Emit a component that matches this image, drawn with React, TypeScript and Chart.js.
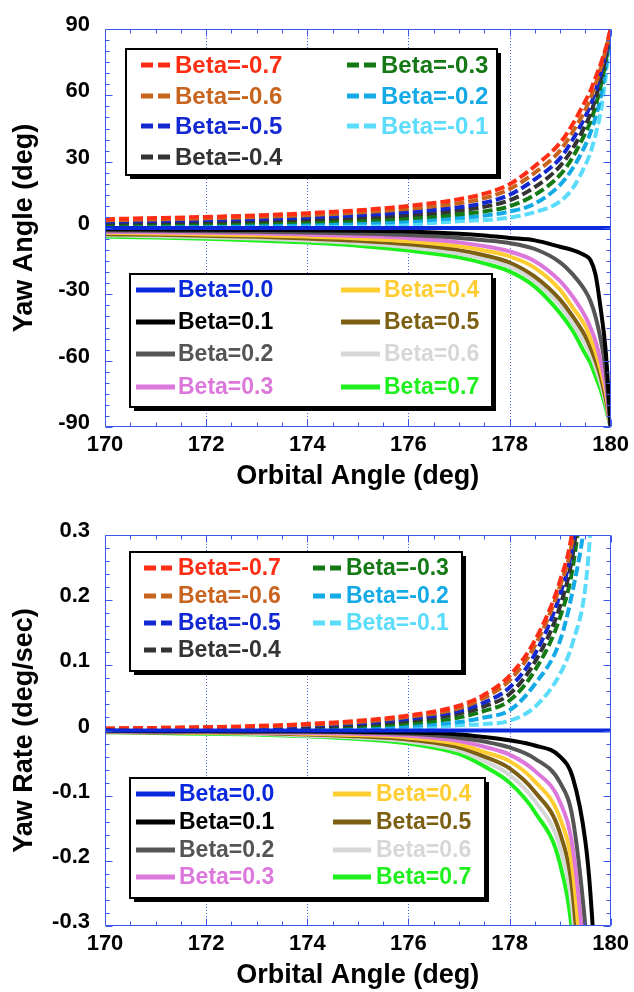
import React, { useEffect, useRef } from 'react';
import { Chart, registerables } from 'chart.js';

Chart.register(...registerables);

const FONT = '"Liberation Sans", Arial, Helvetica, sans-serif';

// ---------- series identity ----------
const betaLabels = [
  'Beta=-0.7', 'Beta=-0.6', 'Beta=-0.5', 'Beta=-0.4', 'Beta=-0.3', 'Beta=-0.2', 'Beta=-0.1',
  'Beta=0.0', 'Beta=0.1', 'Beta=0.2', 'Beta=0.3', 'Beta=0.4', 'Beta=0.5', 'Beta=0.6', 'Beta=0.7',
];
const betaColors = [
  '#ff2d14', '#c8641e', '#1428d2', '#333333', '#147814', '#14aae6', '#5adcfa',
  '#0a28dc', '#000000', '#555555', '#dc78dc', '#ffcd32', '#7d5f14', '#d7d7d7', '#1ef01e',
];

// ---------- tick labels ----------
const orbitalTicks = [170, 172, 174, 176, 178, 180];
const yawTicks = [-90, -60, -30, 0, 30, 60, 90];
const rateTicks = [-0.3, -0.2, -0.1, 0, 0.1, 0.2, 0.3];

// ---------- yaw angle panel (deg) ----------
const orbitalAngleYaw = [170, 171, 172, 173, 174, 175, 176, 177, 177.5, 178, 178.5, 179, 179.25, 179.5, 179.6, 179.7, 179.8, 179.9, 180];
const yawM07 = [4.0, 4.5, 5.0, 5.7, 6.7, 8.0, 10.0, 13.0, 15.5, 19.8, 28.0, 38.5, 47.0, 57.5, 62.0, 68.0, 74.0, 81.0, 90];
const yawM06 = [3.5, 3.9, 4.4, 5.0, 5.8, 7.0, 8.7, 11.2, 13.5, 17.6, 25.0, 35.0, 43.5, 53.5, 58.5, 65.0, 72.0, 80.0, 90];
const yawM05 = [2.9, 3.2, 3.6, 4.1, 4.8, 5.8, 7.2, 9.4, 11.4, 15.0, 22.0, 31.5, 40.0, 50.5, 55.5, 62.0, 69.5, 79.0, 90];
const yawM04 = [2.3, 2.6, 2.9, 3.3, 3.9, 4.7, 5.8, 7.9, 9.6, 12.5, 18.5, 28.0, 36.0, 46.5, 51.5, 58.5, 67.0, 77.0, 90];
const yawM03 = [1.8, 2.0, 2.2, 2.5, 2.9, 3.5, 4.4, 6.2, 7.5, 9.8, 15.0, 24.0, 32.0, 43.0, 48.0, 55.0, 64.0, 75.0, 90];
const yawM02 = [1.2, 1.3, 1.5, 1.7, 2.0, 2.4, 3.0, 4.6, 5.6, 7.4, 11.0, 19.5, 27.0, 37.5, 43.0, 50.0, 59.0, 72.0, 90];
const yawM01 = [0.6, 0.7, 0.8, 0.9, 1.0, 1.2, 1.6, 3.1, 3.6, 4.7, 7.2, 12.0, 18.0, 28.5, 34.0, 42.0, 52.0, 68.0, 90];
const yawP00 = [0, 0, 0, 0, 0, 0, 0, 0, 0, 0, 0, 0, 0, 0, 0, 0, 0, 0, 0];
const yawP01 = [-0.6, -0.7, -0.8, -0.9, -1.0, -1.2, -1.6, -2.6, -3.4, -4.5, -5.6, -8.5, -10.0, -12.5, -14.5, -21.0, -36.0, -55.0, -90];
const yawP02 = [-1.1, -1.3, -1.5, -1.7, -2.0, -2.5, -3.2, -4.5, -5.5, -6.8, -9.5, -15.5, -21.0, -28.5, -33.0, -40.0, -50.0, -64.0, -90];
const yawP03 = [-1.7, -1.9, -2.2, -2.5, -3.0, -3.6, -4.6, -6.5, -8.2, -10.6, -15.0, -24.0, -31.0, -40.0, -45.0, -51.0, -60.0, -71.0, -90];
const yawP04 = [-2.2, -2.5, -2.9, -3.3, -3.9, -4.7, -6.0, -8.3, -10.2, -12.8, -18.0, -28.0, -36.0, -44.5, -50.0, -56.0, -64.0, -74.0, -90];
const yawP05 = [-2.8, -3.1, -3.5, -4.0, -4.8, -5.8, -7.4, -10.0, -12.3, -15.6, -22.0, -32.4, -40.0, -49.0, -54.0, -60.0, -67.0, -77.0, -90];
const yawP06 = [-3.3, -3.7, -4.2, -4.8, -5.7, -6.9, -8.7, -11.6, -14.0, -17.4, -24.0, -35.0, -43.0, -52.5, -57.0, -63.0, -70.0, -79.0, -90];
const yawP07 = [-3.9, -4.3, -4.9, -5.6, -6.6, -8.0, -10.2, -13.3, -16.0, -19.6, -26.5, -38.5, -46.5, -57.0, -61.0, -67.0, -73.0, -81.0, -90];

// ---------- yaw rate panel (deg/sec) ----------
const orbitalAngleRate = [170, 171, 172, 173, 174, 175, 176, 177, 177.5, 178, 178.5, 179, 179.25, 179.5, 179.6, 179.75, 180];
const rateM07 = [0.003, 0.004, 0.005, 0.007, 0.010, 0.015, 0.023, 0.038, 0.055, 0.084, 0.138, 0.230, 0.310, 0.50, 0.60, 0.90, 1.6];
const rateM06 = [0.003, 0.004, 0.005, 0.006, 0.009, 0.013, 0.021, 0.034, 0.050, 0.077, 0.130, 0.222, 0.295, 0.47, 0.57, 0.85, 1.5];
const rateM05 = [0.002, 0.003, 0.004, 0.005, 0.008, 0.011, 0.018, 0.030, 0.043, 0.066, 0.117, 0.209, 0.285, 0.45, 0.55, 0.82, 1.4];
const rateM04 = [0.002, 0.002, 0.003, 0.004, 0.006, 0.009, 0.015, 0.026, 0.037, 0.056, 0.105, 0.191, 0.270, 0.43, 0.53, 0.80, 1.3];
const rateM03 = [0.001, 0.002, 0.002, 0.003, 0.005, 0.007, 0.011, 0.020, 0.030, 0.046, 0.092, 0.174, 0.250, 0.41, 0.51, 0.78, 1.2];
const rateM02 = [0.001, 0.001, 0.001, 0.002, 0.003, 0.004, 0.007, 0.013, 0.020, 0.031, 0.071, 0.138, 0.215, 0.33, 0.42, 0.70, 1.1];
const rateM01 = [0.000, 0.001, 0.001, 0.001, 0.001, 0.002, 0.003, 0.008, 0.010, 0.015, 0.036, 0.087, 0.135, 0.22, 0.31, 0.55, 1.0];
const rateP00 = [0, 0, 0, 0, 0, 0, 0, 0, 0, 0, 0, 0, 0, 0, 0, 0, 0];
const rateP01 = [0.000, -0.001, -0.001, -0.001, -0.001, -0.002, -0.003, -0.006, -0.010, -0.015, -0.023, -0.040, -0.072, -0.170, -0.25, -0.45, -1.0];
const rateP02 = [-0.001, -0.001, -0.001, -0.002, -0.002, -0.003, -0.005, -0.011, -0.017, -0.026, -0.043, -0.080, -0.135, -0.30, -0.40, -0.65, -1.1];
const rateP03 = [-0.001, -0.002, -0.002, -0.003, -0.004, -0.005, -0.008, -0.016, -0.025, -0.037, -0.062, -0.110, -0.180, -0.37, -0.48, -0.75, -1.2];
const rateP04 = [-0.002, -0.002, -0.003, -0.003, -0.005, -0.007, -0.011, -0.021, -0.033, -0.047, -0.078, -0.135, -0.215, -0.44, -0.55, -0.80, -1.3];
const rateP05 = [-0.002, -0.003, -0.003, -0.004, -0.006, -0.009, -0.014, -0.026, -0.040, -0.058, -0.094, -0.158, -0.250, -0.50, -0.60, -0.85, -1.4];
const rateP06 = [-0.003, -0.003, -0.004, -0.005, -0.008, -0.011, -0.017, -0.031, -0.047, -0.068, -0.108, -0.180, -0.280, -0.55, -0.65, -0.90, -1.5];
const rateP07 = [-0.003, -0.004, -0.005, -0.006, -0.009, -0.013, -0.020, -0.036, -0.055, -0.080, -0.125, -0.205, -0.320, -0.60, -0.70, -1.00, -1.6];

const yawSeries = [yawM07, yawM06, yawM05, yawM04, yawM03, yawM02, yawM01, yawP00, yawP01, yawP02, yawP03, yawP04, yawP05, yawP06, yawP07];
const rateSeries = [rateM07, rateM06, rateM05, rateM04, rateM03, rateM02, rateM01, rateP00, rateP01, rateP02, rateP03, rateP04, rateP05, rateP06, rateP07];

// draw order: first dataset is painted last (on top)
const drawOrder = [7, 8, 9, 10, 11, 12, 13, 14, 0, 1, 2, 3, 4, 5, 6];

type LegendCfg = {
  box: [number, number, number, number];
  cols: { x0: number; x1: number; tx: number }[];
  rows: number[];
  font: number;
  items: number[][]; // [seriesIndex, col, row]
};

type PanelCfg = {
  height: number;
  padTop: number;
  padRight: number;
  yWidth: number;
  xHeight: number;
  xTitlePad: number;
  xs: number[];
  series: number[][];
  yMin: number;
  yMax: number;
  yTicks: number[];
  yMinorStep: number;
  yMajorEvery: number;
  yTitle: string;
  yFormat: (v: number) => string;
  legends: LegendCfg[];
};

const legendItemsNeg = [[0, 0, 0], [1, 0, 1], [2, 0, 2], [3, 0, 3], [4, 1, 0], [5, 1, 1], [6, 1, 2]];
const legendItemsPos = [[7, 0, 0], [8, 0, 1], [9, 0, 2], [10, 0, 3], [11, 1, 0], [12, 1, 1], [13, 1, 2], [14, 1, 3]];

const topPanel: PanelCfg = {
  height: 496,
  padTop: 29,
  padRight: 21,
  yWidth: 105,
  xHeight: 69,
  xTitlePad: 3,
  xs: orbitalAngleYaw,
  series: yawSeries,
  yMin: -90,
  yMax: 90,
  yTicks: yawTicks,
  yMinorStep: 5,
  yMajorEvery: 6,
  yTitle: 'Yaw Angle (deg)',
  yFormat: (v: number) => String(v),
  legends: [
    {
      box: [126, 49, 371, 126],
      cols: [{ x0: 141, x1: 171, tx: 175 }, { x0: 347, x1: 377, tx: 381 }],
      rows: [65, 96, 126, 157],
      font: 24,
      items: legendItemsNeg,
    },
    {
      box: [130, 274, 362, 133],
      cols: [{ x0: 136, x1: 175, tx: 178 }, { x0: 341, x1: 380, tx: 384 }],
      rows: [290, 322, 354, 387],
      font: 23,
      items: legendItemsPos,
    },
  ],
};

const bottomPanel: PanelCfg = {
  height: 496,
  padTop: 39,
  padRight: 19,
  yWidth: 105,
  xHeight: 66,
  xTitlePad: 0,
  xs: orbitalAngleRate,
  series: rateSeries,
  yMin: -0.3,
  yMax: 0.3,
  yTicks: rateTicks,
  yMinorStep: 0.02,
  yMajorEvery: 5,
  yTitle: 'Yaw Rate (deg/sec)',
  yFormat: (v: number) => (Math.abs(v) < 1e-9 ? '0' : v.toFixed(1)),
  legends: [
    {
      box: [130, 56, 332, 119],
      cols: [{ x0: 144, x1: 172, tx: 178 }, { x0: 313, x1: 341, tx: 346 }],
      rows: [72, 100, 127, 154],
      font: 23,
      items: legendItemsNeg,
    },
    {
      box: [130, 282, 355, 120],
      cols: [{ x0: 136, x1: 175, tx: 179 }, { x0: 333, x1: 371, tx: 376 }],
      rows: [298, 326, 354, 381],
      font: 23,
      items: legendItemsPos,
    },
  ],
};

const FRAME = '#3a58ee';

function makeFramePlugin(cfg: PanelCfg) {
  return {
    id: 'frameDeco',
    beforeDatasetsDraw(chart: any) {
      const { ctx, chartArea: a, scales } = chart;
      ctx.save();
      ctx.strokeStyle = '#4a68ee';
      ctx.lineWidth = 1;
      ctx.setLineDash([1, 2]);
      for (const v of orbitalTicks) {
        const x = Math.round(scales.x.getPixelForValue(v)) + 0.5;
        if (x <= a.left + 1 || x >= a.right - 1) continue;
        ctx.beginPath();
        ctx.moveTo(x, a.top);
        ctx.lineTo(x, a.bottom);
        ctx.stroke();
      }
      ctx.restore();
    },
    afterDatasetsDraw(chart: any) {
      const { ctx, chartArea: a, scales } = chart;
      ctx.save();
      ctx.strokeStyle = FRAME;
      ctx.lineWidth = 1;
      const L = Math.round(a.left) + 0.5;
      const R = Math.round(a.right) - 0.5;
      const T = Math.round(a.top) + 0.5;
      const B = Math.round(a.bottom) - 0.5;
      ctx.beginPath();
      ctx.rect(L, T, R - L, B - T);
      ctx.stroke();
      // x ticks (every 0.5, major every 2)
      const nx = Math.round((180 - 170) / 0.5);
      for (let i = 0; i <= nx; i++) {
        const v = 170 + i * 0.5;
        const x = Math.round(scales.x.getPixelForValue(v)) + 0.5;
        const len = i % 4 === 0 ? 7 : 4;
        ctx.beginPath();
        ctx.moveTo(x, B);
        ctx.lineTo(x, B - len);
        ctx.moveTo(x, T);
        ctx.lineTo(x, T + len);
        ctx.stroke();
      }
      const ny = Math.round((cfg.yMax - cfg.yMin) / cfg.yMinorStep);
      for (let i = 0; i <= ny; i++) {
        const v = cfg.yMin + i * cfg.yMinorStep;
        const y = Math.round(scales.y.getPixelForValue(v)) + 0.5;
        const len = i % cfg.yMajorEvery === 0 ? 7 : 4;
        ctx.beginPath();
        ctx.moveTo(L, y);
        ctx.lineTo(L + len, y);
        ctx.moveTo(R, y);
        ctx.lineTo(R - len, y);
        ctx.stroke();
      }
      ctx.restore();
    },
    afterDraw(chart: any) {
      const { ctx } = chart;
      const dsByIndex: Record<number, any> = {};
      chart.data.datasets.forEach((d: any) => {
        dsByIndex[d.seriesIndex] = d;
      });
      for (const lg of cfg.legends) {
        const [bx, by, bw, bh] = lg.box;
        ctx.save();
        ctx.fillStyle = '#000';
        ctx.fillRect(bx + 4, by + 4, bw, bh);
        ctx.fillStyle = '#fff';
        ctx.fillRect(bx, by, bw, bh);
        ctx.strokeStyle = '#000';
        ctx.lineWidth = 2;
        ctx.strokeRect(bx, by, bw, bh);
        for (const [si, c, r] of lg.items) {
          const d = dsByIndex[si];
          const col = lg.cols[c];
          const y = lg.rows[r];
          ctx.strokeStyle = d.borderColor;
          ctx.lineWidth = 5;
          ctx.lineCap = 'butt';
          ctx.setLineDash(d.borderDash && d.borderDash.length ? [12, 5] : []);
          ctx.beginPath();
          ctx.moveTo(col.x0, y);
          ctx.lineTo(col.x1, y);
          ctx.stroke();
          ctx.setLineDash([]);
          ctx.fillStyle = d.borderColor;
          ctx.font = `bold ${lg.font}px ${FONT}`;
          ctx.textAlign = 'left';
          ctx.textBaseline = 'middle';
          ctx.fillText(d.label, col.tx, y + 1);
        }
        ctx.restore();
      }
    },
  };
}

function Panel({ cfg }: { cfg: PanelCfg }) {
  const ref = useRef<HTMLCanvasElement>(null);
  useEffect(() => {
    const canvas = ref.current;
    if (!canvas) return;
    const datasets = drawOrder.map((si) => {
      const ys = cfg.series[si];
      const dashed = si < 7;
      return {
        label: betaLabels[si],
        seriesIndex: si,
        data: cfg.xs.map((x, i) => ({ x, y: ys[i] })),
        borderColor: betaColors[si],
        backgroundColor: betaColors[si],
        borderWidth: 4,
        borderDash: dashed ? [10, 4] : [],
        borderCapStyle: 'butt',
        pointRadius: 0,
        pointHoverRadius: 0,
        fill: false,
        cubicInterpolationMode: 'monotone',
        clip: 0,
      };
    });
    const tickFont = { family: FONT, size: 22, weight: 'bold' as const };
    const titleFont = { family: FONT, size: 27, weight: 'bold' as const };
    const chart = new Chart(canvas, {
      type: 'line',
      data: { datasets: datasets as any },
      options: {
        responsive: false,
        animation: false,
        devicePixelRatio: 1,
        events: [],
        layout: { padding: { top: cfg.padTop, right: cfg.padRight, left: 0, bottom: 0 } },
        plugins: { legend: { display: false }, tooltip: { enabled: false } },
        scales: {
          x: {
            type: 'linear',
            min: 170,
            max: 180,
            afterBuildTicks: (s: any) => {
              s.ticks = orbitalTicks.map((v) => ({ value: v }));
            },
            afterFit: (s: any) => {
              s.height = cfg.xHeight;
            },
            grid: { display: false, drawTicks: false },
            border: { display: false },
            ticks: {
              font: tickFont,
              color: '#000',
              padding: 5,
              maxRotation: 0,
              autoSkip: false,
              callback: (v: any) => String(v),
            },
            title: {
              display: true,
              text: 'Orbital Angle (deg)',
              font: titleFont,
              color: '#000',
              padding: { top: 0, bottom: cfg.xTitlePad },
            },
          },
          y: {
            type: 'linear',
            min: cfg.yMin,
            max: cfg.yMax,
            afterBuildTicks: (s: any) => {
              s.ticks = cfg.yTicks.map((v) => ({ value: v }));
            },
            afterFit: (s: any) => {
              s.width = cfg.yWidth;
            },
            grid: { display: false, drawTicks: false },
            border: { display: false },
            ticks: {
              font: tickFont,
              color: '#000',
              padding: 15,
              labelOffset: -4,
              autoSkip: false,
              callback: (v: any) => cfg.yFormat(Number(v)),
            },
            title: {
              display: true,
              text: cfg.yTitle,
              font: titleFont,
              color: '#000',
              padding: { top: 8, bottom: 0 },
            },
          },
        },
      } as any,
      plugins: [makeFramePlugin(cfg) as any],
    });
    return () => chart.destroy();
  }, [cfg]);
  return (
    <canvas
      ref={ref}
      width={634}
      height={cfg.height}
      style={{ display: 'block', width: 634, height: cfg.height }}
    />
  );
}

export default function App() {
  useEffect(() => {
    document.body.style.margin = '0';
    document.body.style.background = '#fff';
  }, []);
  return (
    <div style={{ width: 634, height: 992, background: '#fff', overflow: 'hidden' }}>
      <Panel cfg={topPanel} />
      <Panel cfg={bottomPanel} />
    </div>
  );
}
